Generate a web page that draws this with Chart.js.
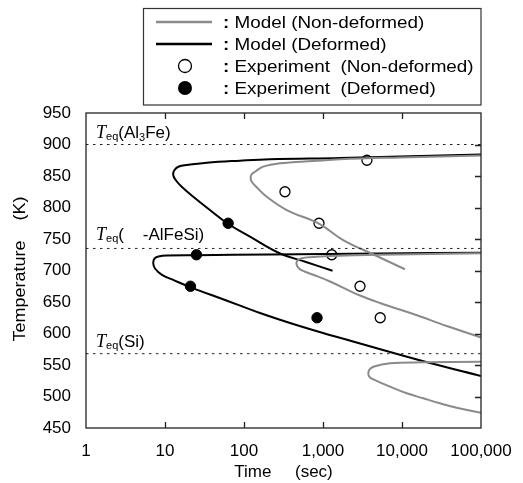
<!DOCTYPE html>
<html>
<head>
<meta charset="utf-8">
<script src="https://cdn.jsdelivr.net/npm/chart.js@4/dist/chart.umd.min.js"></script>
<style>
  body { margin: 0; background: #fff; }
  #wrap { width: 523px; height: 483px; position: relative; }
</style>
</head>
<body>
<div id="wrap"><canvas id="myTTT"></canvas></div>
<script>
// axis ticks
const timeTicks = [1, 10, 100, 1000, 10000, 100000];
const tempTicks = [450, 500, 550, 600, 650, 700, 750, 800, 850, 900, 950];

// equilibrium temperatures (dotted lines)
const eqTemps = [900, 735, 568];

// model, deformed (black)
const defUpperTime = [1320, 609, 286, 119, 63.4, 35, 22.8, 16.4, 13.8, 12.7, 13.2, 15.0, 18.8, 33.7, 89, 213, 1640, 9440, 100000];
const defUpperTemp = [699.7, 713.5, 727, 753.7, 773.8, 798.4, 817.1, 832.5, 842.9, 851.6, 859.5, 865.1, 867.5, 871.1, 874.3, 876.5, 878.6, 881, 884.3];
const defLowerTime = [100000, 22600, 5740, 2400, 1000, 382, 159.5, 57.5, 21.1, 12.7, 9.16, 7.47, 7.1, 7.36, 8.27, 10.5, 25.2, 213, 5280, 100000];
const defLowerTemp = [532.5, 553.2, 573.8, 587.3, 600.8, 616.7, 632.5, 653.2, 673.3, 685, 693, 703.2, 711.4, 719, 722.2, 723.8, 724.3, 725.4, 727, 728.3];

// model, non-deformed (gray)
const ndUpperTime = [10900, 4420, 1800, 898, 347, 194, 146, 126, 121.5, 124.5, 138, 175, 286, 750, 1640, 9440, 100000];
const ndUpperTemp = [702, 725, 748.4, 774, 796, 817, 831.7, 840.5, 846.3, 852.4, 856.8, 864.8, 870.2, 873.8, 876.5, 879.4, 882.5];
const ndLowerTime = [100000, 36800, 13900, 5370, 2940, 1227, 754, 592, 497, 462, 476, 542, 684, 1227, 5280, 100000];
const ndLowerTemp = [593.7, 611.9, 631, 648, 660.3, 682.5, 693.2, 698, 703.2, 710.3, 715.9, 719.4, 721.1, 723, 725.1, 727.3];
const ndLowestTime = [100000, 49200, 30300, 18600, 11460, 7050, 4330, 3870, 3745, 3870, 4330, 7050, 18600, 100000];
const ndLowestTemp = [474.3, 482.2, 489.2, 497.1, 505.1, 515.6, 527.3, 531, 536.8, 542.5, 547.3, 552.7, 554.3, 555.2];

// experiments
const expNdTime = [3600, 330, 890, 1290, 2940, 5300];
const expNdTemp = [875, 825, 775, 725, 675, 625];
const expDefTime = [63, 25, 21, 840];
const expDefTemp = [775, 725, 675, 625];

function pts(t, T) {
    return t.map(function (v, i) { return { x: v, y: T[i] }; });
}

const FONT = "'Liberation Sans', Arial, sans-serif";

const lineBase = { showLine: true, pointRadius: 0, fill: false, tension: 0.4, borderWidth: 2 };

const datasets = [];
eqTemps.forEach(function (T) {
    datasets.push({
        data: pts([1, 100000], [T, T]),
        showLine: true, pointRadius: 0, borderColor: '#222', borderWidth: 1,
        borderDash: [2.5, 4.5], tension: 0
    });
});
datasets.push(Object.assign({ data: pts(ndUpperTime, ndUpperTemp), borderColor: '#8a8a8a' }, lineBase));
datasets.push(Object.assign({ data: pts(ndLowerTime, ndLowerTemp), borderColor: '#8a8a8a' }, lineBase));
datasets.push(Object.assign({ data: pts(ndLowestTime, ndLowestTemp), borderColor: '#8a8a8a' }, lineBase));
datasets.push(Object.assign({ data: pts(defUpperTime, defUpperTemp), borderColor: '#000' }, lineBase));
datasets.push(Object.assign({ data: pts(defLowerTime, defLowerTemp), borderColor: '#000' }, lineBase));
datasets.push({
    data: pts(expNdTime, expNdTemp), showLine: false, pointRadius: 5,
    pointBackgroundColor: '#fff', pointBorderColor: '#000', pointBorderWidth: 1.3
});
datasets.push({
    data: pts(expDefTime, expDefTemp), showLine: false, pointRadius: 5.2,
    pointBackgroundColor: '#000', pointBorderColor: '#000', pointBorderWidth: 1
});

// draw a row of text pieces: [text, font, dy]
function drawPieces(ctx, x, y, pieces) {
    pieces.forEach(function (p) {
        ctx.font = p[1];
        ctx.fillText(p[0], x, y + (p[2] || 0));
        x += ctx.measureText(p[0]).width;
    });
}

const extras = {
    id: 'extras',
    afterDraw: function (chart) {
        const ctx = chart.ctx;
        const a = chart.chartArea;
        const xs = chart.scales.x;
        const ys = chart.scales.y;
        ctx.save();

        // frame
        ctx.strokeStyle = '#222';
        ctx.lineWidth = 1.3;
        ctx.strokeRect(a.left, a.top, a.right - a.left, a.bottom - a.top);

        // inward ticks
        ctx.beginPath();
        timeTicks.slice(1, -1).forEach(function (v) {
            const px = Math.round(xs.getPixelForValue(v)) + 0.5;
            ctx.moveTo(px, a.bottom); ctx.lineTo(px, a.bottom - 6);
            ctx.moveTo(px, a.top); ctx.lineTo(px, a.top + 6);
        });
        tempTicks.slice(1, -1).forEach(function (v) {
            const py = Math.round(ys.getPixelForValue(v)) + 0.5;
            ctx.moveTo(a.right, py); ctx.lineTo(a.right - 6, py);
        });
        ctx.stroke();

        // equilibrium labels
        ctx.fillStyle = '#000';
        ctx.textBaseline = 'alphabetic';
        ctx.textAlign = 'left';
        const tf = "italic 18px 'Liberation Serif', serif";
        const sf = "11px " + FONT;
        const nf = "17px " + FONT;
        drawPieces(ctx, 96, ys.getPixelForValue(eqTemps[0]) - 7,
            [['T', tf], ['eq', sf, 2], ['(Al', nf], ['3', sf, 3], ['Fe)', nf]]);
        drawPieces(ctx, 96, ys.getPixelForValue(eqTemps[1]) - 8,
            [['T', tf], ['eq', sf, 2], ['(    -AlFeSi)', nf]]);
        drawPieces(ctx, 96, ys.getPixelForValue(eqTemps[2]) - 7,
            [['T', tf], ['eq', sf, 2], ['(Si)', nf]]);

        // axis titles
        ctx.font = "17px " + FONT;
        ctx.textAlign = 'center';
        ctx.textBaseline = 'middle';
        ctx.fillText('Time     (sec)', (a.left + a.right) / 2, 472);
        ctx.save();
        ctx.translate(20, 269);
        ctx.rotate(-Math.PI / 2);
        ctx.scale(1.06, 1);
        ctx.fillText('Temperature    (K)', 0, 0);
        ctx.restore();

        // legend box
        ctx.strokeStyle = '#333';
        ctx.lineWidth = 1.2;
        ctx.strokeRect(143.5, 8.5, 337.5, 96.5);
        const rows = [22, 44, 66, 88];
        ctx.lineWidth = 2.5;
        ctx.strokeStyle = '#8a8a8a';
        ctx.beginPath(); ctx.moveTo(156, rows[0]); ctx.lineTo(212, rows[0]); ctx.stroke();
        ctx.strokeStyle = '#000';
        ctx.beginPath(); ctx.moveTo(156, rows[1]); ctx.lineTo(212, rows[1]); ctx.stroke();
        ctx.lineWidth = 1.3;
        ctx.fillStyle = '#fff';
        ctx.beginPath(); ctx.arc(185, rows[2], 6.5, 0, Math.PI * 2); ctx.fill(); ctx.stroke();
        ctx.fillStyle = '#000';
        ctx.beginPath(); ctx.arc(185, rows[3], 7, 0, Math.PI * 2); ctx.fill();

        const labels = ['Model (Non-deformed)', 'Model (Deformed)', 'Experiment  (Non-deformed)', 'Experiment  (Deformed)'];
        ctx.textAlign = 'left';
        ctx.textBaseline = 'middle';
        labels.forEach(function (l, i) {
            ctx.save();
            ctx.translate(223, rows[i] + 1);
            ctx.scale(1.11, 1);
            drawPieces(ctx, 0, 0, [[':', "bold 17px " + FONT], [' ' + l, "17px " + FONT]]);
            ctx.restore();
        });
        ctx.restore();
    }
};

new Chart(document.getElementById('myTTT'), {
    type: 'scatter',
    data: { datasets: datasets },
    options: {
        responsive: true,
        maintainAspectRatio: false,
        animation: false,
        layout: { padding: { top: 113, right: 42, left: 0, bottom: 0 } },
        plugins: { legend: { display: false }, tooltip: { enabled: false } },
        scales: {
            x: {
                type: 'logarithmic',
                min: 1, max: 100000,
                afterBuildTicks: function (scale) {
                    scale.ticks = timeTicks.map(function (v) { return { value: v }; });
                },
                afterFit: function (scale) { scale.height = 55; },
                grid: { display: false },
                border: { display: false },
                ticks: {
                    autoSkip: false, maxRotation: 0, padding: 5,
                    color: '#000', font: { family: FONT, size: 17 },
                    callback: function (v) { return Number(v).toLocaleString('en-US'); }
                }
            },
            y: {
                min: 450, max: 950,
                afterBuildTicks: function (scale) {
                    scale.ticks = tempTicks.map(function (v) { return { value: v }; });
                },
                afterFit: function (scale) { scale.width = 86; },
                grid: { display: false },
                border: { display: false },
                ticks: {
                    padding: 7, color: '#000', font: { family: FONT, size: 17 }
                }
            }
        }
    },
    plugins: [extras]
});
</script>
</body>
</html>
